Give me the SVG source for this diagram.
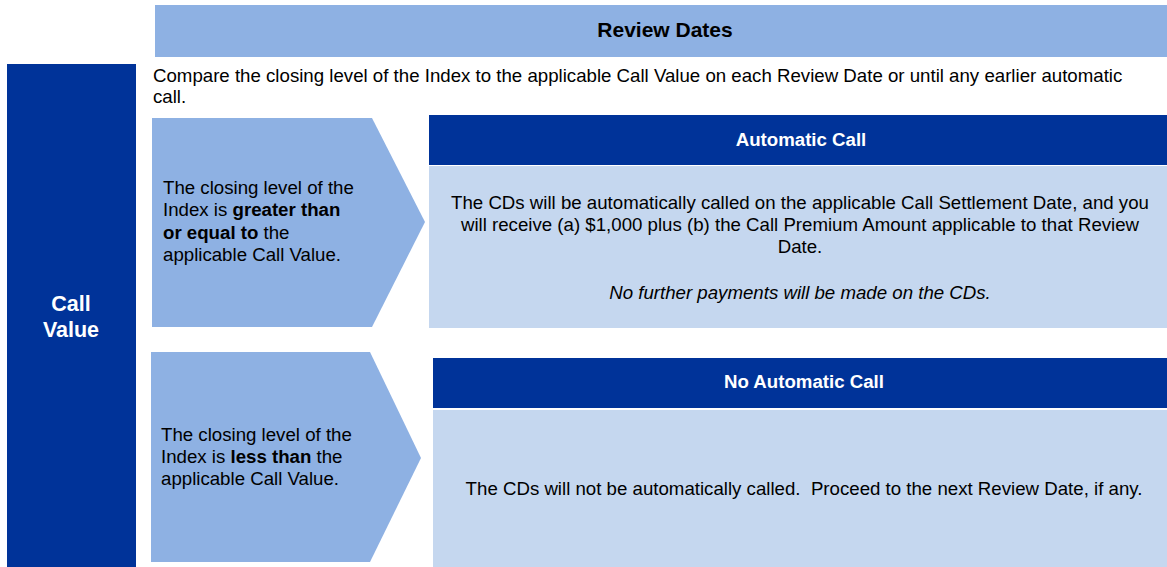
<svg xmlns="http://www.w3.org/2000/svg" width="1167" height="567" viewBox="0 0 1167 567">
<style>
text { font-family: "Liberation Sans", Arial, sans-serif; fill: #000; }
.dark { fill: #003399; }
.mid { fill: #8EB1E3; }
.light { fill: #C5D7EF; }
.t16 { font-size: 18.67px; }
.hdr { font-size: 18.67px; font-weight: bold; fill: #fff; }
.b { font-weight: bold; }
.cv { font-size: 21.5px; font-weight: bold; fill: #fff; }
</style>
<rect width="1167" height="567" fill="#fff"/>
<g id="review-dates">
  <rect class="mid" x="155" y="5" width="1012" height="52"/>
  <text x="665" y="37" text-anchor="middle" class="b" font-size="21">Review Dates</text>
</g>
<g id="call-value">
  <rect class="dark" x="7" y="64" width="129" height="503"/>
  <text x="71" y="311" text-anchor="middle" class="cv">Call</text>
  <text x="71" y="337" text-anchor="middle" class="cv">Value</text>
</g>
<g id="intro">
  <text x="153" y="82" class="t16">Compare the closing level of the Index to the applicable Call Value on each Review Date or until any earlier automatic</text>
  <text x="153" y="103" class="t16">call.</text>
</g>
<g id="cond-greater">
  <polygon class="mid" points="152,118 372,118 425,222 372,327 152,327"/>
  <text x="163" y="194" class="t16">The closing level of the</text>
  <text x="163" y="216" class="t16">Index is <tspan class="b">greater than</tspan></text>
  <text x="163" y="239" class="t16"><tspan class="b">or equal to</tspan> the</text>
  <text x="163" y="261" class="t16">applicable Call Value.</text>
</g>
<g id="automatic-call">
  <rect class="dark" x="429" y="115" width="738" height="50"/>
  <text x="801" y="146" text-anchor="middle" class="hdr">Automatic Call</text>
  <rect class="light" x="429" y="166" width="738" height="162"/>
  <text x="800" y="209" text-anchor="middle" class="t16">The CDs will be automatically called on the applicable Call Settlement Date, and you</text>
  <text x="800" y="231" text-anchor="middle" class="t16">will receive (a) $1,000 plus (b) the Call Premium Amount applicable to that Review</text>
  <text x="800" y="253" text-anchor="middle" class="t16">Date.</text>
  <text x="800" y="299" text-anchor="middle" class="t16" font-style="italic">No further payments will be made on the CDs.</text>
</g>
<g id="cond-less">
  <polygon class="mid" points="151,352 370,352 421,458 370,562 151,562"/>
  <text x="161" y="441" class="t16">The closing level of the</text>
  <text x="161" y="463" class="t16">Index is <tspan class="b">less than</tspan> the</text>
  <text x="161" y="485" class="t16">applicable Call Value.</text>
</g>
<g id="no-automatic-call">
  <rect class="dark" x="433" y="358" width="734" height="50"/>
  <text x="804" y="388" text-anchor="middle" class="hdr">No Automatic Call</text>
  <rect class="light" x="433" y="410" width="734" height="157"/>
  <text x="804" y="495" text-anchor="middle" class="t16">The CDs will not be automatically called.&#160; Proceed to the next Review Date, if any.</text>
</g>
<g id="connectors"></g>
</svg>
